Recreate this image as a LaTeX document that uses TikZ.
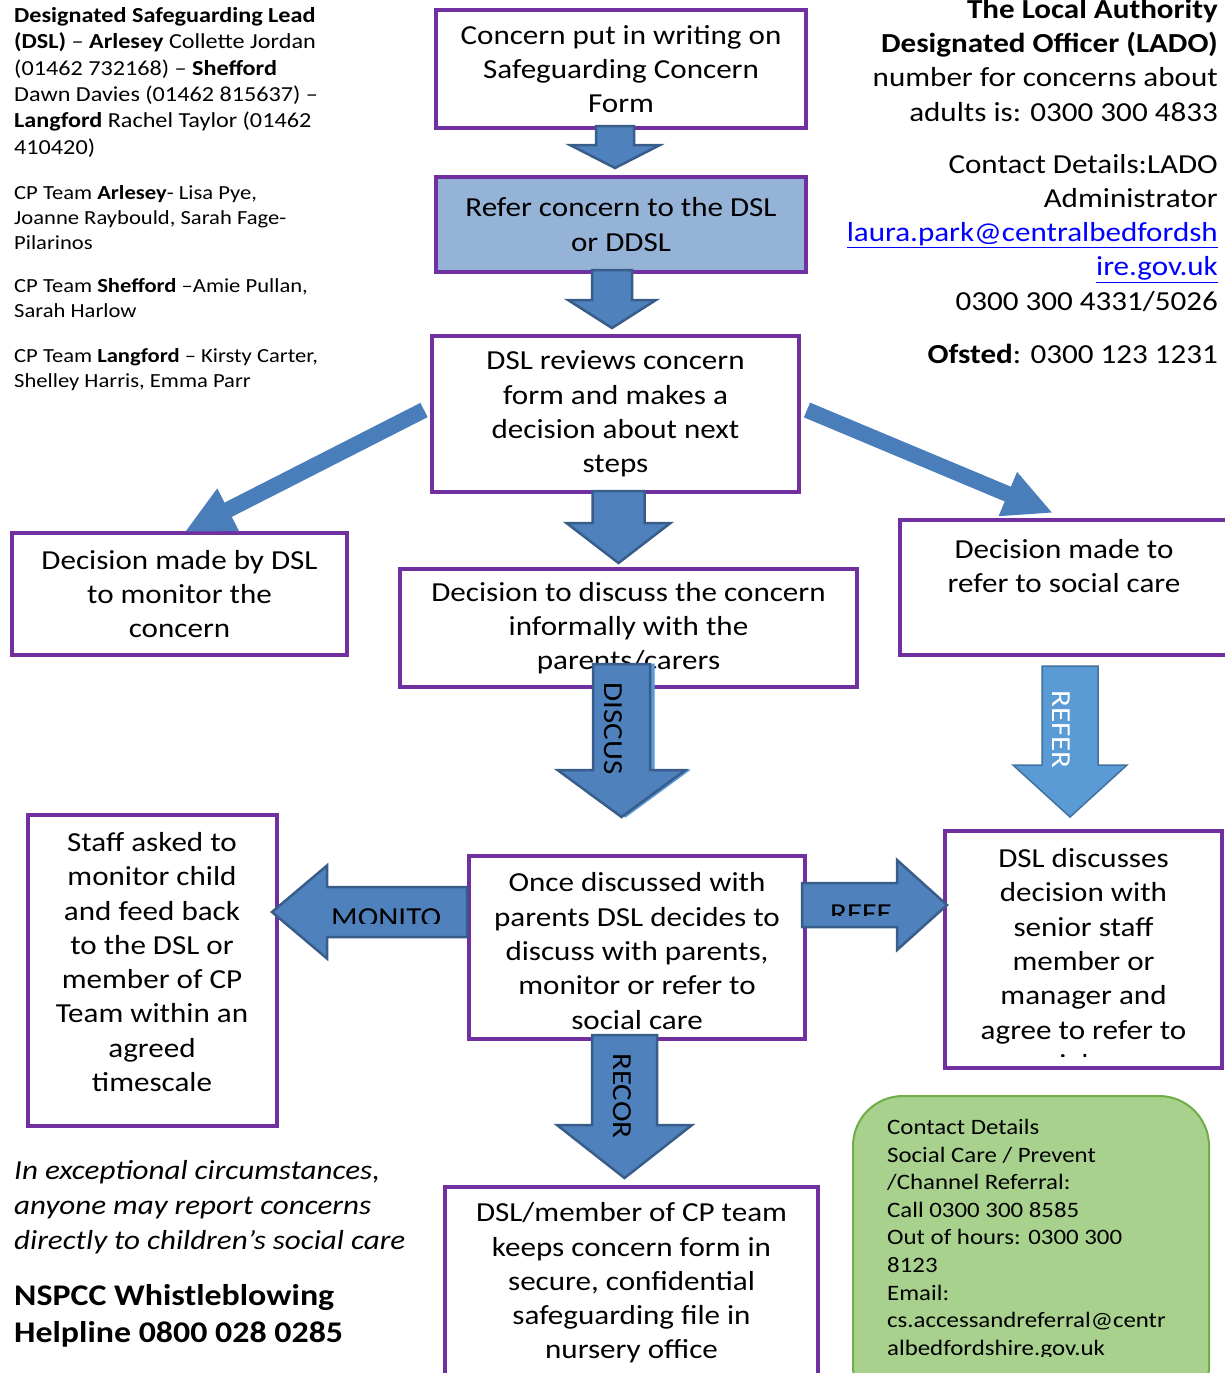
\documentclass[tikz,border=0pt]{standalone}
\usepackage{fontspec}
\setmainfont{Carlito}[FakeStretch=1.13]
\usepackage{tikz}
\usetikzlibrary{calc,arrows.meta}

\definecolor{boxpurple}{HTML}{7030A0}
\definecolor{referblue}{HTML}{95B3D7}
\definecolor{arrowblue}{HTML}{4F81BD}
\definecolor{arrowedge}{HTML}{385D8A}
\definecolor{lightarrow}{HTML}{5B9BD5}
\definecolor{lightedge}{HTML}{41719C}
\definecolor{diagblue}{HTML}{4A7EBB}
\definecolor{contactgreen}{HTML}{A9D18E}
\definecolor{contactedge}{HTML}{70AD47}
\definecolor{linkblue}{HTML}{0000FF}

\newcommand{\boxsize}{\fontsize{27.5}{34.3}\selectfont}
\newcommand{\leadsize}{\fontsize{21.4}{26.4}\selectfont}
\newcommand{\infosize}{\fontsize{20}{25}\selectfont}
\newcommand{\sidesize}{\fontsize{27.5}{34.2}\selectfont}
\newcommand{\contactsize}{\fontsize{22}{27.6}\selectfont}
\newcommand{\notesize}{\fontsize{27.5}{35}\selectfont}
\newcommand{\helpsize}{\fontsize{30}{37}\selectfont}

\tikzset{
  box/.style={draw=boxpurple, line width=4pt, fill=white, align=center,
    outer sep=0pt, inner sep=0pt, font=\boxsize},
  boxtext/.style={align=center, inner sep=0pt, font=\boxsize},
  infotext/.style={align=left, inner sep=0pt, font=\infosize},
  sidetext/.style={align=right, inner sep=0pt, font=\sidesize},
  arrowlabel/.style={inner sep=0pt, font=\boxsize},
  blockarrow/.style={fill=arrowblue, draw=arrowedge, line width=2.5pt},
  lightarrow/.style={fill=lightarrow, draw=lightedge, line width=1.5pt},
  shadowarrow/.style={fill=lightarrow, draw=lightarrow, line width=1pt},
  diagarrow/.style={draw=diagblue, line width=16pt, -{Triangle[length=49pt,width=44pt]}},
  pics/blockdown/.style args={#1/#2/#3/#4/#5}{code={
    \draw[#5] (-#1,0) -- (#1,0) -- (#1,#3) -- (#2,#3) -- (0,#4) -- (-#2,#3) -- (-#1,#3) -- cycle;
  }}
}

\begin{document}
\begin{tikzpicture}[x=1pt, y=-1pt]
\useasboundingbox (0,0) rectangle (1225,1373);
\clip (0,0) rectangle (1225,1373);

% contacts top left
\node[infotext, font=\leadsize, anchor=north west] (dsl) at (14,7) {\textbf{Designated Safeguarding Lead}\\\textbf{(DSL)} – \textbf{Arlesey} Collette Jordan\\(01462 732168) – \textbf{Shefford}\\Dawn Davies (01462 815637) –\\\textbf{Langford} Rachel Taylor (01462\\410420)};
\node[infotext, anchor=north west] (arlesey) at (14,185) {CP Team \textbf{Arlesey}- Lisa Pye,\\Joanne Raybould, Sarah Fage-\\Pilarinos};
\node[infotext, anchor=north west] (shefford) at (14,278) {CP Team \textbf{Shefford} –Amie Pullan,\\Sarah Harlow};
\node[infotext, anchor=north west] (langford) at (14,348) {CP Team \textbf{Langford} – Kirsty Carter,\\Shelley Harris, Emma Parr};

% contacts top right
\node[sidetext, anchor=north east] (lado) at (1218,-1) {\textbf{The Local Authority}\\\textbf{Designated Officer (LADO)}\\number for concerns about\\adults is: 0300 300 4833};
\node[sidetext, anchor=north east] (ladoadmin) at (1218,154) {Contact Details:LADO\\Administrator\\\textcolor{linkblue}{\underline{laura.park@centralbedfordsh}}\\\textcolor{linkblue}{\underline{ire.gov.uk}}\\0300 300 4331/5026};
\node[sidetext, anchor=north east] (ofsted) at (1218,344) {\textbf{Ofsted}: 0300 123 1231};

% flow boxes
\node[box, minimum width=370, minimum height=118] (form) at (621,69) {Concern put in writing on\\Safeguarding Concern\\Form};
\node[box, fill=referblue, minimum width=370, minimum height=95] (refer) at (621,224.5) {Refer concern to the DSL\\or DDSL};
\node[box, minimum width=367, minimum height=156] (review) at (615.5,414) {DSL reviews concern\\form and makes a\\decision about next\\steps};
\node[box, minimum width=335, minimum height=122] (monitor) at (179.5,594) {Decision made by DSL\\to monitor the\\concern};
\node[box, minimum width=457, minimum height=118] (discuss) at (628.5,628) {Decision to discuss the concern\\informally with the\\parents/carers};
\node[box, minimum width=332, minimum height=135] (referal) at (1066,587.5) {};
\node[boxtext] (referaltext) at (1064,566) {Decision made to\\refer to social care};
\node[box, minimum width=249, minimum height=311] (staff) at (152.5,970.5) {};
\node[boxtext] (stafftext) at (152,962) {Staff asked to\\monitor child\\and feed back\\to the DSL or\\member of CP\\Team within an\\agreed\\timescale};
\node[box, minimum width=336, minimum height=183] (outcome) at (637,947.5) {};
\node[boxtext] (outcometext) at (637,951) {Once discussed with\\parents DSL decides to\\discuss with parents,\\monitor or refer to\\social care};
\node[box, minimum width=277, minimum height=237] (senior) at (1083.5,949.5) {};
\begin{scope}
  \clip (947,833) rectangle (1220,1056);
  \node[boxtext] (seniortext) at (1083.5,961) {DSL discusses\\decision with\\senior staff\\member or\\manager and\\agree to refer to\\social care};
\end{scope}
\node[box, minimum width=373, minimum height=192] (record) at (631.5,1283) {DSL/member of CP team\\keeps concern form in\\secure, confidential\\safeguarding file in\\nursery office};

% block arrows down the middle
\pic at ($(form.south)+(-6,-2)$) {blockdown=19/45/19/42/blockarrow};
\pic at ($(refer.south)+(-9,-2)$) {blockdown=20/44/30/58/blockarrow};
\pic at ($(review.south)+(3,-1)$) {blockdown=26/52/32/72/blockarrow};

% diagonal arrows
\draw[diagarrow] ($(review.west)+(-8,-4)$) -- ($(monitor.north)+(5,-1)$);
\draw[diagarrow] ($(review.east)+(8,-4)$) -- ($(referal.north)+(-13,-7)$);

% labelled arrows
\pic at ($(discuss.south)+(-3,-23)$) {blockdown=28.5/64/106/153/shadowarrow};
\pic at ($(discuss.south)+(-7,-23)$) {blockdown=28.5/64/106/153/blockarrow};
\node[arrowlabel, rotate=-90] (discuslabel) at (613.5,728.5) {DISCUS};

\pic at ($(referal.south)+(4,11)$) {blockdown=28/57/99/151/lightarrow};
\node[arrowlabel, text=white, rotate=-90] (referlabel) at (1061,729.5) {REFER};

\pic[rotate=-90] at ($(outcome.west)+(-2,-35.5)$) {blockdown=25/46.5/140/195/blockarrow};
\begin{scope}
  \clip (330,890) rectangle (462,923);
  \node[arrowlabel, anchor=base west] (monitolabel) at (331,926) {MONITO};
\end{scope}

\pic[rotate=90] at ($(outcome.east)+(-3,-42.5)$) {blockdown=22/45/95/145/blockarrow};
\begin{scope}
  \clip (820,890) rectangle (895,915);
  \node[arrowlabel, anchor=base west] (refelabel) at (830,922) {REFE};
\end{scope}

\pic at ($(outcome.south)+(-12.5,-4)$) {blockdown=32.5/67.5/90/143/blockarrow};
\node[arrowlabel, rotate=-90] (recorlabel) at (622,1096) {RECOR};

% notes bottom left
\node[infotext, font=\notesize\itshape, anchor=north west] (exceptional) at (14,1160) {In exceptional circumstances,\\anyone may report concerns\\directly to children’s social care};
\node[infotext, font=\helpsize\bfseries, anchor=north west] (nspcc) at (14,1284) {NSPCC Whistleblowing\\Helpline 0800 028 0285};

% social care contact
\node[draw=contactedge, line width=2pt, fill=contactgreen, rounded corners=50pt, minimum width=356, minimum height=320, anchor=north west] (contact) at (852,1095) {};
\begin{scope}
  \clip (852,1095) rectangle (1210,1356);
  \node[infotext, font=\contactsize, anchor=north west] (contacttext) at (887,1119) {Contact Details\\Social Care / Prevent\\/Channel Referral:\\Call 0300 300 8585\\Out of hours: 0300 300\\8123\\Email:\\cs.accessandreferral@centr\\albedfordshire.gov.uk};
\end{scope}
\end{tikzpicture}
\end{document}
